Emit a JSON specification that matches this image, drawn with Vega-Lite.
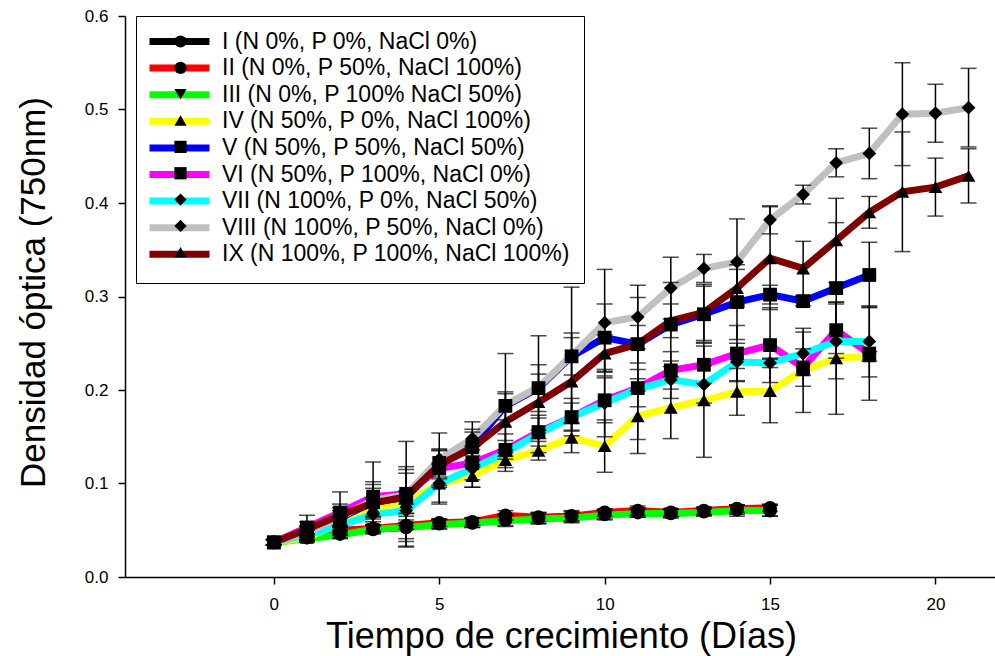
{
  "$schema": "https://vega.github.io/schema/vega-lite/v6.json",
  "autosize": {"type": "none"},
  "padding": {"left": 125, "top": 16, "right": 0, "bottom": 79},
  "width": 870,
  "height": 561,
  "background": "white",
  "config": {
    "view": {"stroke": null},
    "font": "Liberation Sans",
    "axis": {
      "domainColor": "black", "domainWidth": 1.5, "tickColor": "black", "tickWidth": 1.5, "tickSize": 7,
      "labelFont": "Liberation Sans", "labelFontSize": 17, "labelColor": "black", "grid": false,
      "titleFont": "Liberation Sans", "titleFontWeight": "normal", "titleColor": "black"
    }
  },
  "data": {
    "values": [
      {"s":"I","d":0,"v":0.037,"e":0.003},{"s":"I","d":1,"v":0.042,"e":0.004},{"s":"I","d":2,"v":0.046,"e":0.004},{"s":"I","d":3,"v":0.051,"e":0.005},{"s":"I","d":4,"v":0.053,"e":0.015},{"s":"I","d":5,"v":0.057,"e":0.005},{"s":"I","d":6,"v":0.058,"e":0.005},{"s":"I","d":7,"v":0.061,"e":0.006},{"s":"I","d":8,"v":0.063,"e":0.006},{"s":"I","d":9,"v":0.065,"e":0.006},{"s":"I","d":10,"v":0.067,"e":0.005},{"s":"I","d":11,"v":0.069,"e":0.005},{"s":"I","d":12,"v":0.068,"e":0.004},{"s":"I","d":13,"v":0.070,"e":0.004},{"s":"I","d":14,"v":0.072,"e":0.005},{"s":"I","d":15,"v":0.071,"e":0.006},
      {"s":"II","d":0,"v":0.037,"e":0.003},{"s":"II","d":1,"v":0.045,"e":0.005},{"s":"II","d":2,"v":0.050,"e":0.005},{"s":"II","d":3,"v":0.052,"e":0.004},{"s":"II","d":4,"v":0.055,"e":0.023},{"s":"II","d":5,"v":0.058,"e":0.004},{"s":"II","d":6,"v":0.059,"e":0.004},{"s":"II","d":7,"v":0.066,"e":0.005},{"s":"II","d":8,"v":0.064,"e":0.005},{"s":"II","d":9,"v":0.065,"e":0.005},{"s":"II","d":10,"v":0.069,"e":0.004},{"s":"II","d":11,"v":0.071,"e":0.005},{"s":"II","d":12,"v":0.069,"e":0.004},{"s":"II","d":13,"v":0.071,"e":0.004},{"s":"II","d":14,"v":0.073,"e":0.004},{"s":"II","d":15,"v":0.074,"e":0.004},
      {"s":"III","d":0,"v":0.037,"e":0.003},{"s":"III","d":1,"v":0.041,"e":0.004},{"s":"III","d":2,"v":0.045,"e":0.004},{"s":"III","d":3,"v":0.051,"e":0.004},{"s":"III","d":4,"v":0.053,"e":0.012},{"s":"III","d":5,"v":0.056,"e":0.005},{"s":"III","d":6,"v":0.058,"e":0.005},{"s":"III","d":7,"v":0.060,"e":0.006},{"s":"III","d":8,"v":0.062,"e":0.005},{"s":"III","d":9,"v":0.063,"e":0.005},{"s":"III","d":10,"v":0.066,"e":0.005},{"s":"III","d":11,"v":0.068,"e":0.004},{"s":"III","d":12,"v":0.068,"e":0.005},{"s":"III","d":13,"v":0.069,"e":0.004},{"s":"III","d":14,"v":0.071,"e":0.006},{"s":"III","d":15,"v":0.071,"e":0.006},
      {"s":"IV","d":0,"v":0.037,"e":0.003},{"s":"IV","d":1,"v":0.042,"e":0.004},{"s":"IV","d":2,"v":0.058,"e":0.005},{"s":"IV","d":3,"v":0.074,"e":0.010},{"s":"IV","d":4,"v":0.080,"e":0.012},{"s":"IV","d":5,"v":0.100,"e":0.020},{"s":"IV","d":6,"v":0.108,"e":0.012},{"s":"IV","d":7,"v":0.125,"e":0.008},{"s":"IV","d":8,"v":0.135,"e":0.010},{"s":"IV","d":9,"v":0.149,"e":0.016},{"s":"IV","d":10,"v":0.140,"e":0.028},{"s":"IV","d":11,"v":0.172,"e":0.040},{"s":"IV","d":12,"v":0.181,"e":0.033},{"s":"IV","d":13,"v":0.189,"e":0.061},{"s":"IV","d":14,"v":0.198,"e":0.025},{"s":"IV","d":15,"v":0.199,"e":0.034},{"s":"IV","d":16,"v":0.221,"e":0.045},{"s":"IV","d":17,"v":0.234,"e":0.060},{"s":"IV","d":18,"v":0.236,"e":0.005},
      {"s":"V","d":0,"v":0.037,"e":0.003},{"s":"V","d":1,"v":0.050,"e":0.005},{"s":"V","d":2,"v":0.063,"e":0.008},{"s":"V","d":3,"v":0.080,"e":0.015},{"s":"V","d":4,"v":0.085,"e":0.030},{"s":"V","d":5,"v":0.122,"e":0.015},{"s":"V","d":6,"v":0.140,"e":0.015},{"s":"V","d":7,"v":0.183,"e":0.015},{"s":"V","d":8,"v":0.202,"e":0.025},{"s":"V","d":9,"v":0.236,"e":0.020},{"s":"V","d":10,"v":0.256,"e":0.036},{"s":"V","d":11,"v":0.249,"e":0.050},{"s":"V","d":12,"v":0.270,"e":0.045},{"s":"V","d":13,"v":0.281,"e":0.030},{"s":"V","d":14,"v":0.294,"e":0.040},{"s":"V","d":15,"v":0.302,"e":0.010},{"s":"V","d":16,"v":0.295,"e":0.005},{"s":"V","d":17,"v":0.309,"e":0.070},{"s":"V","d":18,"v":0.323,"e":0.035},
      {"s":"VI","d":0,"v":0.037,"e":0.003},{"s":"VI","d":1,"v":0.053,"e":0.013},{"s":"VI","d":2,"v":0.069,"e":0.022},{"s":"VI","d":3,"v":0.086,"e":0.037},{"s":"VI","d":4,"v":0.089,"e":0.056},{"s":"VI","d":5,"v":0.116,"e":0.020},{"s":"VI","d":6,"v":0.122,"e":0.018},{"s":"VI","d":7,"v":0.136,"e":0.010},{"s":"VI","d":8,"v":0.155,"e":0.015},{"s":"VI","d":9,"v":0.171,"e":0.020},{"s":"VI","d":10,"v":0.189,"e":0.024},{"s":"VI","d":11,"v":0.202,"e":0.020},{"s":"VI","d":12,"v":0.221,"e":0.020},{"s":"VI","d":13,"v":0.227,"e":0.020},{"s":"VI","d":14,"v":0.239,"e":0.030},{"s":"VI","d":15,"v":0.248,"e":0.040},{"s":"VI","d":16,"v":0.224,"e":0.020},{"s":"VI","d":17,"v":0.264,"e":0.030},{"s":"VI","d":18,"v":0.239,"e":0.050},
      {"s":"VII","d":0,"v":0.037,"e":0.003},{"s":"VII","d":1,"v":0.045,"e":0.006},{"s":"VII","d":2,"v":0.055,"e":0.010},{"s":"VII","d":3,"v":0.067,"e":0.012},{"s":"VII","d":4,"v":0.071,"e":0.020},{"s":"VII","d":5,"v":0.100,"e":0.022},{"s":"VII","d":6,"v":0.116,"e":0.020},{"s":"VII","d":7,"v":0.133,"e":0.020},{"s":"VII","d":8,"v":0.153,"e":0.020},{"s":"VII","d":9,"v":0.171,"e":0.015},{"s":"VII","d":10,"v":0.186,"e":0.036},{"s":"VII","d":11,"v":0.201,"e":0.054},{"s":"VII","d":12,"v":0.211,"e":0.020},{"s":"VII","d":13,"v":0.206,"e":0.020},{"s":"VII","d":14,"v":0.230,"e":0.020},{"s":"VII","d":15,"v":0.229,"e":0.005},{"s":"VII","d":16,"v":0.239,"e":0.023},{"s":"VII","d":17,"v":0.252,"e":0.040},{"s":"VII","d":18,"v":0.252,"e":0.038},
      {"s":"VIII","d":0,"v":0.037,"e":0.003},{"s":"VIII","d":1,"v":0.048,"e":0.006},{"s":"VIII","d":2,"v":0.064,"e":0.010},{"s":"VIII","d":3,"v":0.082,"e":0.020},{"s":"VIII","d":4,"v":0.088,"e":0.030},{"s":"VIII","d":5,"v":0.126,"e":0.028},{"s":"VIII","d":6,"v":0.148,"e":0.018},{"s":"VIII","d":7,"v":0.184,"e":0.055},{"s":"VIII","d":8,"v":0.203,"e":0.055},{"s":"VIII","d":9,"v":0.237,"e":0.073},{"s":"VIII","d":10,"v":0.272,"e":0.057},{"s":"VIII","d":11,"v":0.278,"e":0.034},{"s":"VIII","d":12,"v":0.309,"e":0.033},{"s":"VIII","d":13,"v":0.330,"e":0.015},{"s":"VIII","d":14,"v":0.337,"e":0.046},{"s":"VIII","d":15,"v":0.382,"e":0.015},{"s":"VIII","d":16,"v":0.409,"e":0.010},{"s":"VIII","d":17,"v":0.443,"e":0.015},{"s":"VIII","d":18,"v":0.453,"e":0.027},{"s":"VIII","d":19,"v":0.495,"e":0.055},{"s":"VIII","d":20,"v":0.496,"e":0.031},{"s":"VIII","d":21,"v":0.502,"e":0.042},
      {"s":"IX","d":0,"v":0.037,"e":0.003},{"s":"IX","d":1,"v":0.051,"e":0.008},{"s":"IX","d":2,"v":0.066,"e":0.012},{"s":"IX","d":3,"v":0.079,"e":0.020},{"s":"IX","d":4,"v":0.086,"e":0.025},{"s":"IX","d":5,"v":0.120,"e":0.015},{"s":"IX","d":6,"v":0.138,"e":0.020},{"s":"IX","d":7,"v":0.166,"e":0.030},{"s":"IX","d":8,"v":0.187,"e":0.030},{"s":"IX","d":9,"v":0.209,"e":0.052},{"s":"IX","d":10,"v":0.239,"e":0.020},{"s":"IX","d":11,"v":0.249,"e":0.020},{"s":"IX","d":12,"v":0.274,"e":0.018},{"s":"IX","d":13,"v":0.283,"e":0.030},{"s":"IX","d":14,"v":0.309,"e":0.020},{"s":"IX","d":15,"v":0.341,"e":0.055},{"s":"IX","d":16,"v":0.330,"e":0.029},{"s":"IX","d":17,"v":0.360,"e":0.045},{"s":"IX","d":18,"v":0.390,"e":0.017},{"s":"IX","d":19,"v":0.412,"e":0.064},{"s":"IX","d":20,"v":0.417,"e":0.031},{"s":"IX","d":21,"v":0.429,"e":0.029}
    ]
  },
  "encoding": {
    "x": {
      "field": "d", "type": "quantitative",
      "scale": {"domain": [-4.5, 21.8], "nice": false, "zero": false},
      "axis": {
        "values": [0, 5, 10, 15, 20], "labelPadding": 12,
        "title": "Tiempo de crecimiento (Días)", "titleFontSize": 36,
        "titleX": 436, "titleY": 70, "titleAlign": "center", "titleBaseline": "alphabetic", "titleAnchor": null
      }
    },
    "y": {
      "field": "v", "type": "quantitative",
      "scale": {"domain": [0, 0.6], "nice": false},
      "axis": {
        "values": [0, 0.1, 0.2, 0.3, 0.4, 0.5, 0.6], "format": ".1f", "labelPadding": 10,
        "title": "Densidad óptica (750nm)", "titleFontSize": 35, "titleAngle": -90,
        "titleX": -81, "titleY": 276, "titleAlign": "center", "titleBaseline": "alphabetic", "titleAnchor": null
      }
    }
  },
  "layer": [
    {
      "mark": {"type": "line", "strokeWidth": 7},
      "encoding": {
        "color": {
          "field": "s", "type": "nominal",
          "scale": {
            "domain": ["I", "II", "III", "IV", "V", "VI", "VII", "VIII", "IX"],
            "range": ["#000000", "#ff0000", "#00ff00", "#ffff00", "#0000ff", "#ff00ff", "#00ffff", "#c0c0c0", "#800000"]
          },
          "legend": {
            "orient": "none", "legendX": 11, "legendY": 0, "padding": 14,
            "title": null, "strokeColor": "black", "fillColor": "white",
            "symbolType": "M-6,0H6", "symbolSize": 100, "symbolStrokeWidth": 7, "symbolOffset": 18,
            "labelOffset": 31, "labelFontSize": 23, "labelFont": "Liberation Sans", "labelColor": "black",
            "rowPadding": -2.4, "labelLimit": 600,
            "labelExpr": "{'I':'I  (N 0%, P 0%, NaCl 0%)','II':'II (N 0%, P 50%, NaCl 100%)','III':'III (N 0%, P 100% NaCl 50%)','IV':'IV (N 50%, P 0%, NaCl 100%)','V':'V (N 50%, P 50%, NaCl 50%)','VI':'VI (N 50%, P 100%, NaCl 0%)','VII':'VII (N 100%, P 0%, NaCl 50%)','VIII':'VIII (N 100%, P 50%, NaCl 0%)','IX':'IX (N 100%, P 100%, NaCl 100%)'}[datum.label]"
          }
        }
      }
    },
    {
      "mark": {"type": "errorbar", "ticks": {"size": 16}, "thickness": 1.5, "color": "black"},
      "encoding": {
        "yError": {"field": "e"}
      }
    },
    {
      "mark": {"type": "point", "filled": true, "color": "black", "opacity": 1, "size": 190},
      "encoding": {
        "shape": {
          "field": "s", "type": "nominal",
          "scale": {
            "domain": ["I", "II", "III", "IV", "V", "VI", "VII", "VIII", "IX"],
            "range": ["circle", "circle", "triangle-down", "triangle-up", "square", "square", "diamond", "diamond", "triangle-up"]
          },
          "legend": {
            "orient": "top-left", "offset": 0, "padding": 14, "title": null,
            "symbolSize": 150, "symbolOffset": 30, "symbolFillColor": "black", "symbolStrokeWidth": 0,
            "labelFontSize": 23, "labelFont": "Liberation Sans", "labelOpacity": 0, "rowPadding": 2.35, "labelLimit": 600,
            "labelExpr": "' '"
          }
        }
      }
    }
  ]
}
